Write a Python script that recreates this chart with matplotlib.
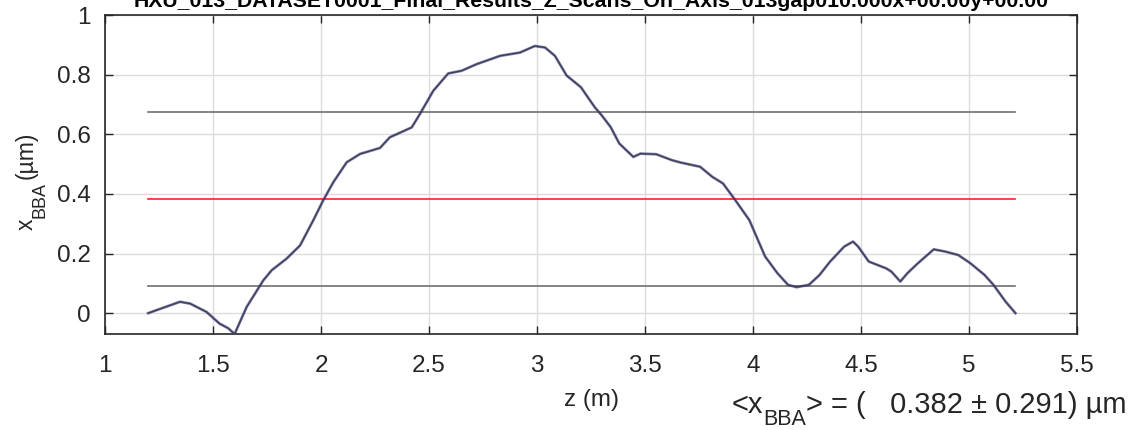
import matplotlib
matplotlib.use("Agg")
import matplotlib.pyplot as plt

plt.rcParams['font.family'] = ['Liberation Sans', 'DejaVu Sans']

z_m = [1.20, 1.347, 1.394, 1.47, 1.53, 1.571, 1.60, 1.656, 1.733, 1.772, 1.841, 1.903,
       1.964, 2.01, 2.057, 2.119, 2.181, 2.273, 2.319, 2.42, 2.458, 2.52, 2.589, 2.651,
       2.72, 2.829, 2.921, 2.99, 3.037, 3.083, 3.137, 3.203, 3.267, 3.30, 3.341, 3.381,
       3.446, 3.479, 3.552, 3.625, 3.666, 3.755, 3.812, 3.861, 3.918, 3.983, 4.056,
       4.113, 4.162, 4.202, 4.259, 4.308, 4.357, 4.422, 4.463, 4.487, 4.536, 4.617,
       4.641, 4.682, 4.715, 4.763, 4.837, 4.893, 4.950, 5.007, 5.072, 5.113, 5.169, 5.215]
x_bba = [0.0, 0.038, 0.032, 0.004, -0.035, -0.051, -0.07, 0.021, 0.11, 0.144, 0.183, 0.227,
         0.311, 0.378, 0.439, 0.506, 0.534, 0.554, 0.590, 0.623, 0.668, 0.746, 0.804, 0.813,
         0.835, 0.863, 0.874, 0.896, 0.891, 0.863, 0.797, 0.758, 0.691, 0.663, 0.624, 0.569,
         0.524, 0.535, 0.533, 0.513, 0.505, 0.491, 0.457, 0.435, 0.379, 0.312, 0.190,
         0.134, 0.095, 0.087, 0.095, 0.128, 0.173, 0.223, 0.240, 0.223, 0.173, 0.150,
         0.139, 0.106, 0.134, 0.167, 0.214, 0.206, 0.195, 0.167, 0.128, 0.095, 0.039, 0.0]

mean_x = 0.382
std_x = 0.291
title = "HXU_013_DATASET0001_Final_Results_Z_Scans_On_Axis_013gap010.000x+00.00y+00.00"
xticks = [1, 1.5, 2, 2.5, 3, 3.5, 4, 4.5, 5, 5.5]
xticklabels = ["1", "1.5", "2", "2.5", "3", "3.5", "4", "4.5", "5", "5.5"]
yticks = [0, 0.2, 0.4, 0.6, 0.8, 1]
yticklabels = ["0", "0.2", "0.4", "0.6", "0.8", "1"]

W, H = 1144, 430
TXT = '#262626'
fig = plt.figure(figsize=(W/100, H/100), dpi=100)
ax = fig.add_axes([105/W, 1-334/H, (1077-105)/W, (334-15)/H])

zmin, zmax = z_m[0], z_m[-1]
ax.plot([zmin, zmax], [mean_x, mean_x], color='#ff2020', lw=1.2, zorder=3)
ax.plot([zmin, zmax], [mean_x + std_x]*2, color='#707070', lw=1.2, zorder=3)
ax.plot([zmin, zmax], [mean_x - std_x]*2, color='#707070', lw=1.2, zorder=3)
ax.plot(z_m, x_bba, color='#2e2e8a', lw=2.0, zorder=4, alpha=0.6)
ax.plot(z_m, x_bba, color='#404050', lw=1.0, zorder=5)

ax.set_xlim(1, 5.5)
ax.set_ylim(-0.07, 1)
ax.set_xticks(xticks)
ax.set_xticklabels(xticklabels)
ax.set_yticks(yticks)
ax.set_yticklabels(yticklabels)
ax.grid(True, color='#dcdcdc', lw=1.0)
ax.set_axisbelow(True)
ax.tick_params(direction='in', length=6, width=1, colors=TXT, labelsize=17.5,
               top=True, right=True)
ax.tick_params(axis='x', pad=15)
ax.tick_params(axis='y', pad=10)
for s in ax.spines.values():
    s.set_color(TXT)
    s.set_linewidth(1.2)

ax.set_xlabel("z (m)", fontsize=17.5, color=TXT, labelpad=9)

# title (top partly cut off as in the reference)
fig.text((105 + 1077) / 2 / W, 1 - 7/H, title, fontsize=15.3, fontweight='bold',
         color='#000000', ha='center', va='baseline')

renderer = fig.canvas.get_renderer()

def adv(s, size):
    t = fig.text(0, 0, s, fontsize=size)
    w = t.get_window_extent(renderer).width
    t.remove()
    return w

# bottom-right annotation, built from pieces so the subscript matches
x0 = 732.0
base = 413.0
pieces = [("<x", 21, 0), ("BBA", 15.5, 12), ("> = (   %.3f ± %.3f) µm" % (mean_x, std_x), 21, 0)]
for s, size, dy in pieces:
    fig.text(x0/W, 1-(base+dy)/H, s, fontsize=size, color=TXT, ha='left', va='baseline')
    x0 += adv(s, size)

# y label, rotated, from pieces
y0 = 230.0
xb = 33.0
ypieces = [("x", 16.5, 0), ("BBA", 13, 11), ("(µm)", 16.5, 0)]
for s, size, dx in ypieces:
    fig.text((xb+dx)/W, 1-y0/H, s, fontsize=size, color=TXT, rotation=90,
             rotation_mode='anchor', ha='left', va='baseline')
    y0 -= adv(s, size) + (3 if s == "BBA" else 0)

fig.savefig("out.png", dpi=100)
